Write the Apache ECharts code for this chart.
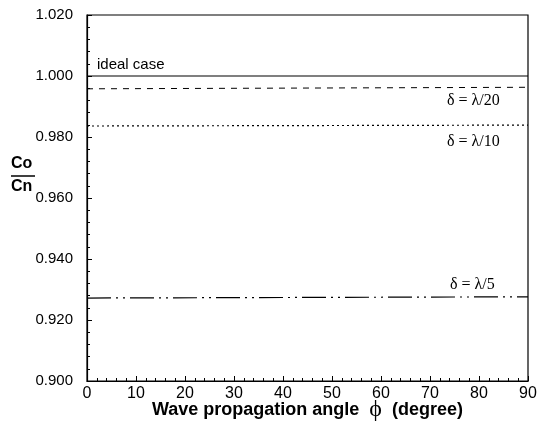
<!DOCTYPE html>
<html><head><meta charset="utf-8">
<script src="https://cdn.jsdelivr.net/npm/echarts@6/dist/echarts.min.js"></script>
<style>html,body{margin:0;padding:0;background:#fff}#c{width:541px;height:426px}</style>
</head><body><div id="c"></div>
<script>
const angles = [0, 90];
const idealCase = [1.0000, 1.0000];
const lambda20 = [0.9958, 0.9963];
const lambda10 = [0.9836, 0.9839];
const lambda5 = [0.9272, 0.9276];
const seriesNames = ['ideal case', 'δ = λ/20', 'δ = λ/10', 'δ = λ/5'];
const yTicks = ['0.900','0.920','0.940','0.960','0.980','1.000','1.020'];

const chart = echarts.init(document.getElementById('c'));
const mk = (arr) => angles.map((a, i) => [a, arr[i]]);
const base = {type:'line', symbol:'none', silent:true, animation:false};
chart.setOption({
  animation:false,
  grid:{left:87, right:13, top:15, bottom:45, show:true, borderColor:'#000', borderWidth:1.2},
  xAxis:{type:'value', min:0, max:90, interval:10,
    axisLine:{lineStyle:{color:'#000', width:1.2}},
    axisTick:{inside:true, length:5, lineStyle:{color:'#000'}},
    minorTick:{show:true, splitNumber:5, length:3, lineStyle:{color:'#000'}},
    splitLine:{show:false},
    axisLabel:{color:'#000', fontFamily:'Liberation Sans, Arial', fontSize:16, margin:5}
  },
  yAxis:{type:'value', min:0.9, max:1.02, interval:0.02,
    axisLine:{show:true, lineStyle:{color:'#000', width:1.2}},
    axisTick:{inside:true, length:5, lineStyle:{color:'#000'}},
    minorTick:{show:true, splitNumber:5, length:3, lineStyle:{color:'#000'}},
    splitLine:{show:false},
    axisLabel:{color:'#000', fontFamily:'Liberation Sans, Arial', fontSize:15, margin:14,
      formatter:(v)=>yTicks[Math.round((v-0.9)/0.02)]}
  },
  series:[
    Object.assign({}, base, {name:seriesNames[0], data:mk(idealCase), lineStyle:{color:'#000', width:1.2}}),
    Object.assign({}, base, {name:seriesNames[1], data:mk(lambda20), lineStyle:{color:'#000', width:1, type:[6,6]}}),
    Object.assign({}, base, {name:seriesNames[2], data:mk(lambda10), lineStyle:{color:'#000', width:1.2, type:[2,3]}}),
    Object.assign({}, base, {name:seriesNames[3], data:mk(lambda5), lineStyle:{color:'#000', width:1.2, type:[24,5,2,5,2,5]}})
  ],
  graphic:[
    {type:'text', left:97, top:57, style:{text:seriesNames[0], fontFamily:'Liberation Sans, Arial', fontSize:15, fill:'#000'}},
    {type:'text', left:447, top:93, style:{text:seriesNames[1], fontFamily:'Liberation Serif, Times New Roman, serif', fontSize:16, fill:'#000'}},
    {type:'text', left:447, top:134, style:{text:seriesNames[2], fontFamily:'Liberation Serif, Times New Roman, serif', fontSize:16, fill:'#000'}},
    {type:'text', left:450, top:277, style:{text:seriesNames[3], fontFamily:'Liberation Serif, Times New Roman, serif', fontSize:16, fill:'#000'}},
    {type:'text', left:11, top:156, style:{text:'Co', fontFamily:'Liberation Sans, Arial', fontWeight:'bold', fontSize:16, fill:'#000'}},
    {type:'line', shape:{x1:11, y1:176, x2:35, y2:176}, style:{stroke:'#000', lineWidth:1.5}},
    {type:'text', left:11, top:179, style:{text:'Cn', fontFamily:'Liberation Sans, Arial', fontWeight:'bold', fontSize:16, fill:'#000'}},
    {type:'text', left:152, top:398, style:{rich:{
      a:{fontFamily:'Liberation Sans, Arial', fontSize:18, fontWeight:'bold', fill:'#000'},
      p:{fontFamily:'Liberation Serif, serif', fontSize:24, fill:'#000'}
    }, text:'{a|Wave propagation angle  }{p|ϕ}{a|  (degree)}'}}
  ]
});
</script></body></html>
